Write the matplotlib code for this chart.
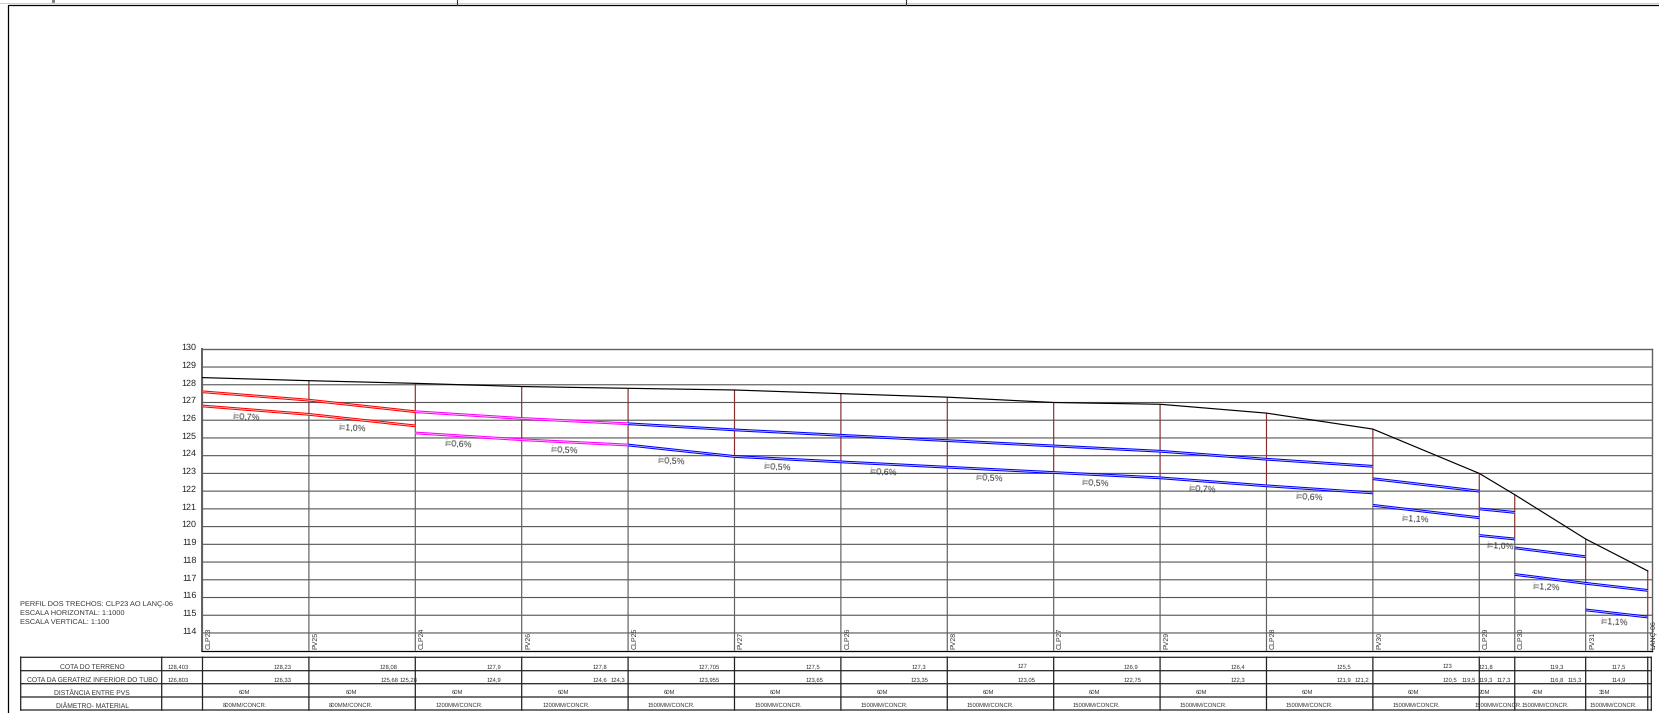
import matplotlib
matplotlib.use("Agg")
import matplotlib.pyplot as plt
from matplotlib.transforms import ScaledTranslation

plt.rcParams['font.family'] = ['Liberation Sans', 'DejaVu Sans']
plt.rcParams['text.hinting'] = 'no_hinting'

# ---------- profile data ----------
stations = [0, 60, 120, 180, 240, 300, 360, 420, 480, 540, 600, 660, 720, 740, 780, 815]
station_names = ['CLP23', 'PV25', 'CLP24', 'PV26', 'CLP25', 'PV27', 'CLP26', 'PV28',
                 'CLP27', 'PV29', 'CLP28', 'PV30', 'CLP29', 'CLP30', 'PV31', 'LANÇ-06']
terrain = [128.403, 128.23, 128.08, 127.9, 127.8, 127.705, 127.5, 127.3,
           127.0, 126.9, 126.4, 125.5, 123.0, 121.8, 119.3, 117.5]
# deepest invert at each shaft: the vertical shaft line stops there
shaft_bottom = [126.803, 126.33, 125.68, 124.9, 124.6, 123.955, 123.65, 123.35,
                123.05, 122.75, 122.3, 121.9, 120.5, 119.3, 116.8, 114.9]

pipe_start_x = [0, 60, 120, 180, 240, 300, 360, 420, 480, 540, 600, 660, 720, 740, 780]
pipe_end_x = [60, 120, 180, 240, 300, 360, 420, 480, 540, 600, 660, 720, 740, 780, 815]
invert_start = [126.803, 126.33, 125.28, 124.9, 124.6, 123.955, 123.65, 123.35,
                123.05, 122.75, 122.3, 121.2, 119.5, 117.3, 115.3]
invert_end = [126.33, 125.68, 124.9, 124.6, 123.955, 123.65, 123.35, 123.05,
              122.75, 122.3, 121.9, 120.5, 119.3, 116.8, 114.9]
crown_start = [127.603, 127.13, 126.48, 126.1, 125.8, 125.455, 125.15, 124.85,
               124.55, 124.25, 123.8, 122.7, 121.0, 118.8, 116.8]
crown_end = [127.13, 126.48, 126.1, 125.8, 125.455, 125.15, 124.85, 124.55,
             124.25, 123.8, 123.4, 122.0, 120.8, 118.3, 116.4]
pipe_material = ['r', 'r', 'm', 'm', 'b', 'b', 'b', 'b', 'b', 'b', 'b', 'b', 'b', 'b', 'b']
pipe_colors = {'r': '#ff0000', 'm': '#ff00ff', 'b': '#0000ff'}

slope_text = ['i=0,7%', 'i=1,0%', 'i=0,6%', 'i=0,5%', 'i=0,5%', 'i=0,5%', 'i=0,6%', 'i=0,5%',
              'i=0,5%', 'i=0,7%', 'i=0,6%', 'i=1,1%', 'i=1,0%', 'i=1,2%', 'i=1,1%']
slope_x = [24.4, 84.4, 144.4, 204, 264.5, 324.3, 384.1, 443.9, 503.6, 564, 624, 684, 731.6, 757.8, 796.3]
slope_v = [126.14, 125.54, 124.64, 124.30, 123.66, 123.36, 123.04, 122.75, 122.47,
           122.08, 121.66, 120.42, 118.88, 116.58, 114.6]

levels = list(range(114, 131))

# ---------- table data ----------
row_names = ['COTA DO TERRENO', 'COTA DA GERATRIZ INFERIOR DO TUBO',
             'DISTÂNCIA ENTRE PVS', 'DIÂMETRO- MATERIAL']
terrain_labels = ['128,403', '128,23', '128,08', '127,9', '127,8', '127,705', '127,5', '127,3',
                  '127', '126,9', '126,4', '125,5', '123', '121,8', '119,3', '117,5']
terrain_label_x = [178, 283, 389, 494, 599.6, 709.6, 812.9, 918.6, 1022, 1131, 1237.5, 1344,
                   1447.5, 1486, 1556.8, 1618.6]
invert_labels = ['126,803', '126,33', '125,68', '125,28', '124,9', '124,6', '124,3', '123,955',
                 '123,65', '123,35', '123,05', '122,75', '122,3', '121,9', '121,2', '120,5',
                 '119,5', '119,3', '117,3', '116,8', '115,3', '114,9']
invert_label_x = [178, 283, 389.3, 409, 494, 599.6, 618, 709.6, 814.3, 920, 1026.4, 1132.9,
                  1237.5, 1344, 1362, 1450, 1468.6, 1485.7, 1503.6, 1556.8, 1574.6, 1618.6]
distance_labels = ['60M'] * 12 + ['20M', '40M', '35M']
distance_label_x = [244.6, 351, 457.5, 563.6, 669.6, 775.7, 882, 988, 1094.3, 1201, 1307.5,
                    1413.6, 1484.6, 1537.9, 1604.3]
material_labels = ['800MM/CONCR.'] * 2 + ['1200MM/CONCR.'] * 2 + ['1500MM/CONCR.'] * 11
material_label_x = [245, 351.4, 459.6, 566, 671.8, 778, 884.6, 990.7, 1096.8, 1203.6, 1309.6,
                    1416, 1497.9, 1545.7, 1613]
title_lines = ['PERFIL DOS TRECHOS: CLP23 AO LANÇ-06', 'ESCALA HORIZONTAL: 1:1000', 'ESCALA VERTICAL: 1:100']

# ---------- layout (pixels) ----------
W, H = 1659, 713
fig = plt.figure(figsize=(W / 100, H / 100), dpi=100, facecolor='white')

page = fig.add_axes([0, 0, 1, 1])
page.set_xlim(0, W)
page.set_ylim(H, 0)
page.axis('off')

AX_L, AX_R, AX_T, AX_B = 201.5, 1651.8, 349.3, 650.7
ax = fig.add_axes([AX_L / W, 1 - AX_B / H, (AX_R - AX_L) / W, (AX_B - AX_T) / H])
PX_PER_M = 1.7733
ax.set_xlim((AX_L - 202.5) / PX_PER_M, (AX_R - 202.5) / PX_PER_M)
ax.set_ylim(113, 130)
ax.patch.set_alpha(0)

# grid
for v in levels:
    ax.axhline(v, color='#555555', lw=0.8, zorder=1, snap=False)
ax.set_yticks(levels)
ax.set_xticks([])
ax.tick_params(axis='y', length=0, pad=3.4, labelsize=6.5, labelcolor='#222222')
shift = ScaledTranslation(0, 2.5 / 100, fig.dpi_scale_trans)
for lbl in ax.get_yticklabels():
    lbl.set_transform(lbl.get_transform() + shift)
for s in ['top', 'right', 'left']:
    ax.spines[s].set_color('#606060')
    ax.spines[s].set_linewidth(1.0)
ax.spines['left'].set_linewidth(1.4)
ax.spines['bottom'].set_color('black')
ax.spines['bottom'].set_linewidth(0.9)

# shafts
for x, t, b in zip(stations, terrain, shaft_bottom):
    ax.plot([x, x], [113, b], color='#606060', lw=0.85, zorder=2, solid_capstyle='butt', snap=False)
    ax.plot([x, x], [b, t], color='#85302f', lw=0.85, zorder=2, solid_capstyle='butt', snap=False)

# terrain
ax.plot(stations, terrain, color='black', lw=0.85, zorder=4)

# pipes: outlined double line
for x0, x1, a, b, c, d, m in zip(pipe_start_x, pipe_end_x, invert_start, invert_end,
                                 crown_start, crown_end, pipe_material):
    for y0, y1 in ((a, b), (c, d)):
        ax.plot([x0, x1], [y0, y1], color=pipe_colors[m], lw=2.0, zorder=5, solid_capstyle='butt')
        ax.plot([x0, x1], [y0, y1], color='white', lw=0.5, alpha=0.85, zorder=6, solid_capstyle='butt')

for x, v, s in zip(slope_x, slope_v, slope_text):
    ax.text(x, v, s, fontsize=6.4, color='#333333', ha='center', va='center', rotation=-3,
            rotation_mode='anchor', zorder=7)

for x, s in zip(stations, station_names):
    ax.text(x + 3.6, 113.08, s, fontsize=5.0, color='#333333', rotation=90, ha='center', va='bottom',
            zorder=7)

# page frame
page.plot([8, 8, W], [H, 4.5, 4.5], color='black', lw=0.9, solid_joinstyle='miter')
page.plot([0, W], [3.3, 3.3], color='#cccccc', lw=0.7)
for xt in (457, 906):
    page.plot([xt, xt], [0, 4.5], color='#333333', lw=0.8)
page.plot([53, 53], [0, 1.2], color='#777777', lw=2)

# title block
for y, s in zip([604.3, 613.3, 622.3], title_lines):
    page.text(19.5, y, s, fontsize=5.3, color='#333333', ha='left', va='center')

# table
row_y = [657.3, 670.7, 683.7, 697, 710]
col_x = [20.7, 161.7] + [202.5 + PX_PER_M * s for s in stations] + [1651.3]
for y in row_y:
    page.plot([col_x[0], col_x[-1]], [y, y], color='#222222', lw=0.9, snap=False)
for x in col_x:
    page.plot([x, x], [row_y[0], row_y[-1]], color='#222222', lw=0.9, snap=False)

row_c = [666.7, 679.7, 692.7, 705.7]
for y, s in zip(row_c, row_names):
    page.text(92, y, s, fontsize=4.9, color='#333333', ha='center', va='center')
for xs, labels, y in [(terrain_label_x, terrain_labels, row_c[0]),
                      (invert_label_x, invert_labels, row_c[1]),
                      (distance_label_x, distance_labels, row_c[2]),
                      (material_label_x, material_labels, row_c[3])]:
    for x, s in zip(xs, labels):
        page.text(x, y, s, fontsize=4.2, color='#333333', ha='center', va='center')

fig.savefig('out.png', dpi=100)
